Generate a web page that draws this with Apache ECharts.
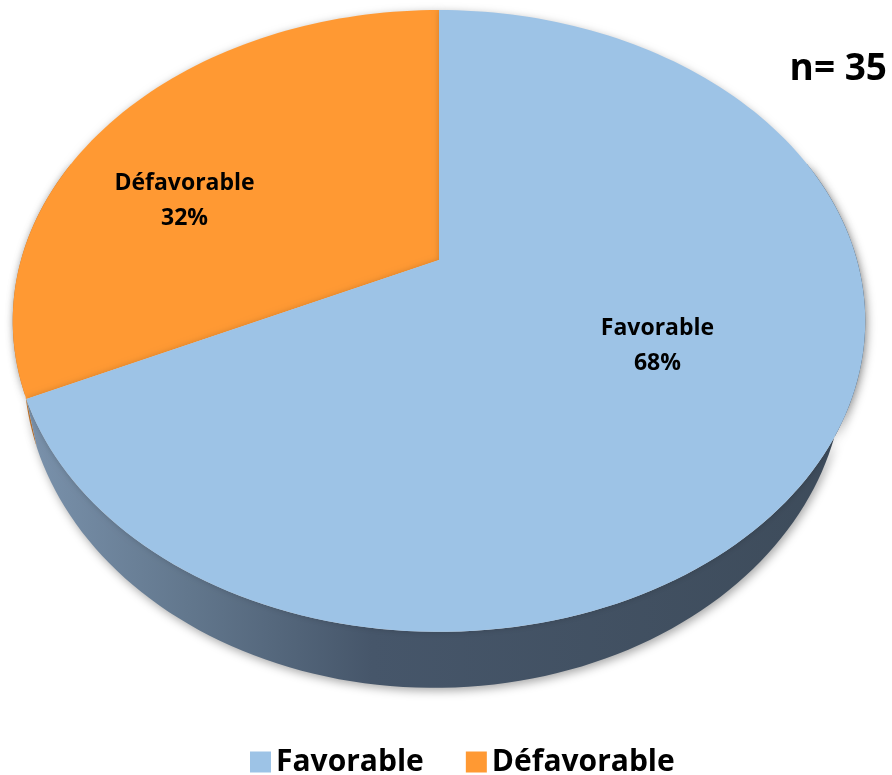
<!DOCTYPE html>
<html>
<head>
<meta charset="utf-8">
<script src="https://cdn.jsdelivr.net/npm/echarts@6/dist/echarts.min.js"></script>
<style>
html,body{margin:0;padding:0;background:#fff;}
#chart{width:892px;height:775px;}
</style>
</head>
<body>
<div id="chart"></div>
<script>
// ---- data ----
const categories = ['Défavorable', 'Favorable'];
const values = [32, 68];
const sampleSize = 35;
const legendOrder = ['Favorable', 'Défavorable'];

// ---- styles / layout ----
const sliceColors = ['#FF9933', '#9DC3E6'];
const wallStops = [
  [{offset: 0, color: '#c97a30'}, {offset: 0.4, color: '#a55f22'}, {offset: 1, color: '#7d4718'}],
  [{offset: 0, color: '#7b93ad'}, {offset: 0.2, color: '#62778d'}, {offset: 0.42, color: '#46566a'}, {offset: 1, color: '#3d4b5a'}]
];
// top ellipse (perspective) + bottom rim shrink/shift
const G = {cx: 439, cy: 260, rx: 418, ry: 299, k: 0.196, depth: 45, shrink: 0.962, shiftX: -5,
           lx: 0.67, ly: 0.45, ldx: -18, ldy: 10};
const FONT = '"Open Sans", "DejaVu Sans", sans-serif';

const total = values.reduce((a, b) => a + b, 0);

function proj(aDeg, f) {
  const a = aDeg * Math.PI / 180;
  const u = -Math.sin(a) * f, v = -Math.cos(a) * f;
  const w = 1 - G.k * v;
  return {x: G.cx + G.rx * u / w, y: G.cy + G.ry * v / w, w: w};
}

function arcPoints(a0, a1) {
  const n = Math.max(2, Math.ceil(Math.abs(a1 - a0) / 1.5));
  const pts = [];
  for (let i = 0; i <= n; i++) {
    pts.push(proj(a0 + (a1 - a0) * i / n, 1));
  }
  return pts;
}

function makeRender(idx) {
  return function (params, api) {
    const before = values.slice(0, idx).reduce((a, b) => a + b, 0);
    const val = values[idx];
    const a0 = before / total * 360;
    const a1 = (before + val) / total * 360;
    const children = [];

    // side wall (front half; back part is covered by the top face)
    const w0 = Math.max(a0, 70), w1 = Math.min(a1, 290);
    if (w1 > w0) {
      const top = arcPoints(w0, w1);
      const pts = top.map(p => [p.x, p.y]);
      for (let i = top.length - 1; i >= 0; i--) {
        const p = top[i];
        pts.push([G.cx + (p.x - G.cx) * G.shrink + G.shiftX, p.y + G.depth / p.w]);
      }
      children.push({
        type: 'polygon', z2: 0,
        shape: {points: pts},
        style: {
          fill: new echarts.graphic.LinearGradient(G.cx - G.rx, 0, G.cx + G.rx, 0, wallStops[idx], true),
          shadowBlur: 10, shadowColor: 'rgba(0,0,0,0.35)', shadowOffsetX: 2, shadowOffsetY: 3
        }
      });
    }

    // top face
    const c = proj(0, 0);
    const face = [[c.x, c.y]].concat(arcPoints(a0, a1).map(p => [p.x, p.y]));
    children.push({
      type: 'polygon', z2: 10,
      shape: {points: face},
      style: {fill: api.visual('color'), shadowBlur: 6, shadowColor: 'rgba(0,0,0,0.18)'}
    });

    // label
    const mid = (a0 + a1) / 2;
    const m = mid * Math.PI / 180;
    const u = -Math.sin(m);
    children.push({
      type: 'text', z2: 20,
      style: {
        text: categories[idx] + '\n' + Math.round(val / total * 100) + '%',
        x: G.cx + G.rx * G.lx * u + G.ldx,
        y: proj(mid, G.ly).y + G.ldy,
        align: 'center', verticalAlign: 'middle',
        fill: '#000', font: 'bold 23px ' + FONT, lineHeight: 35
      }
    });
    return {type: 'group', children: children};
  };
}

const series = categories.map((name, i) => ({
  type: 'custom',
  name: name,
  coordinateSystem: 'none',
  silent: true,
  itemStyle: {color: sliceColors[i]},
  data: [values[i]],
  renderItem: makeRender(i)
}));

const chart = echarts.init(document.getElementById('chart'));
chart.setOption({
  animation: false,
  backgroundColor: '#fff',
  title: {
    text: 'n= ' + sampleSize,
    right: 0, top: 46,
    textStyle: {fontFamily: FONT, fontWeight: 'bold', fontSize: 37, color: '#000'}
  },
  legend: {
    data: legendOrder,
    left: 245, top: 742,
    icon: 'rect', itemWidth: 21, itemHeight: 21, itemGap: 42,
    selectedMode: false,
    textStyle: {fontFamily: FONT, fontWeight: 'bold', fontSize: 30, color: '#000'}
  },
  series: series
});
</script>
</body>
</html>
